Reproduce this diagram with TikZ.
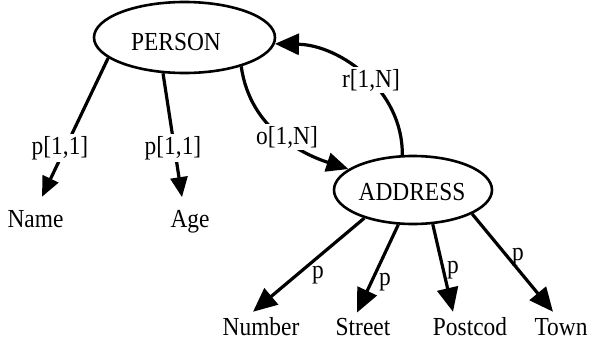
\documentclass[tikz,border=0pt]{standalone}
\usepackage{fontspec}
\setmainfont{Liberation Serif}[FakeStretch=0.9]
\usetikzlibrary{arrows.meta,shapes.geometric}
\begin{document}
\begin{tikzpicture}[x=1pt,y=-1pt,
  font=\fontsize{26}{30}\selectfont,
  ell/.style={draw, ellipse, line width=2.6pt, inner sep=0pt},
  txt/.style={inner sep=0pt, anchor=base},
  lbl/.style={fill=white, inner sep=2pt},
  plbl/.style={inner sep=0pt},
  con/.style={line width=3.2pt, -{Triangle[length=22pt,width=19pt]}},
  small/.style={-{Triangle[length=20pt,width=17pt]}},
  big/.style={-{Triangle[length=24pt,width=21pt]}}
]
\path[use as bounding box] (0,0) rectangle (590,343);

\node[ell, minimum width=181pt, minimum height=71pt] (person) at (184.5,37.5) {};
\node[txt] (personlbl) at (176,50) {PERSON};
\node[ell, minimum width=158pt, minimum height=68pt] (address) at (413,190) {};
\node[txt] (addresslbl) at (412,200) {ADDRESS};

\node[txt] (name) at (35.5,227) {Name};
\node[txt] (age) at (190,227) {Age};
\node[txt] (number) at (261,335) {Number};
\node[txt] (street) at (363,335) {Street};
\node[txt] (postcod) at (470,335) {Postcod};
\node[txt] (town) at (561,335) {Town};

\draw[con,small] (person.195) -- ([xshift=6.5pt,yshift=13pt]name.north);
\draw[con,small] (person.239) -- ([xshift=-8pt,yshift=12.5pt]age.north);
\draw[con,big] (address.210) -- ([xshift=-8pt,yshift=5pt]number.north);
\draw[con,big] (address.247) -- ([xshift=-6pt,yshift=5pt]street.north);
\draw[con,big] (address.300) -- ([xshift=-17pt,yshift=5pt]postcod.north);
\draw[con,big] (address.338) -- ([xshift=-8pt,yshift=6pt]town.north);
\draw[con] (person.333) .. controls (250,130) and (305,155) .. (address.162);
\draw[con,big] (address.107) .. controls (403,90) and (340,45) .. (person.356);

\node[lbl] (l1) at (60,148) {p[1,1]};
\node[lbl] (l2) at (173,148) {p[1,1]};
\node[lbl] (l3) at (287,137) {o[1,N]};
\node[lbl] (l4) at (371,80) {r[1,N]};
\node[plbl] (l5) at (318,275) {p};
\node[plbl] (l6) at (385,282) {p};
\node[plbl] (l7) at (453,270) {p};
\node[plbl] (l8) at (518,257) {p};
\end{tikzpicture}
\end{document}
